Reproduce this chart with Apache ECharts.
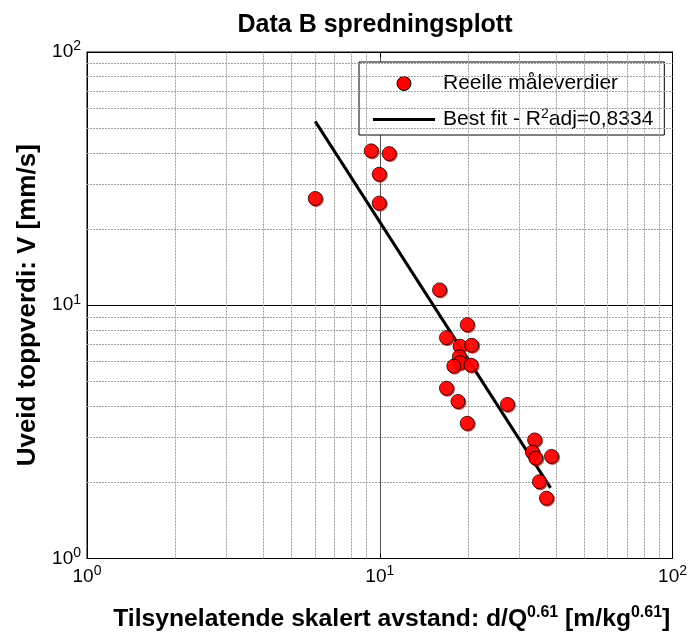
<!DOCTYPE html>
<html>
<head>
<meta charset="utf-8">
<script src="https://cdn.jsdelivr.net/npm/echarts@6/dist/echarts.min.js"></script>
<style>html,body{margin:0;padding:0;background:#fff}#c{width:690px;height:637px}</style>
</head>
<body>
<div id="c"></div>
<script>
// Measured points (scaled distance vs peak velocity)
const xVals = [6.02, 9.35, 10.77, 9.96, 9.96, 16.0, 19.9, 16.9, 18.8, 20.6, 18.7, 18.8, 17.9, 20.5, 16.9, 18.5, 27.3, 19.9, 33.8, 33.2, 34.1, 38.6, 35.1, 37.1];
const yVals = [26.4, 40.7, 39.7, 32.9, 25.3, 11.5, 8.38, 7.45, 6.89, 6.95, 6.26, 5.93, 5.75, 5.80, 4.70, 4.17, 4.06, 3.42, 2.94, 2.63, 2.49, 2.53, 2.01, 1.73];
// Best fit line endpoints
const fitX = [6.02, 38.3];
const fitY = [53.2, 1.90];
// Minor grid values (log decades 1..100)
const minorGrid = [2, 3, 4, 5, 6, 7, 8, 9, 20, 30, 40, 50, 60, 70, 80, 90];

const FONT = '"Liberation Sans", Arial, sans-serif';
const chart = echarts.init(document.getElementById('c'), null, {renderer: 'canvas'});

const tickRich = {
  b: {fontSize: 19, fontFamily: FONT, color: '#000'},
  s: {fontSize: 14, fontFamily: FONT, color: '#000', padding: [0, 0, 11, 0]}
};
const xNameRich = {
  b: {fontSize: 24.7, fontWeight: 'bold', fontFamily: FONT, color: '#000'},
  s: {fontSize: 16, fontWeight: 'bold', fontFamily: FONT, color: '#000', padding: [0, 0, 14, 0]}
};
const yNameRich = {
  b: {fontSize: 26, fontWeight: 'bold', fontFamily: FONT, color: '#000'}
};
const tickFmt = v => '{b|10}{s|' + Math.round(Math.log10(v)) + '}';

const scatterData = xVals.map((x, i) => [x, yVals[i]]);
const fitData = fitX.map((x, i) => [x, fitY[i]]);

const gridLineStyle = {color: '#a0a0a0', width: 1, type: [2, 1]};

chart.setOption({
  animation: false,
  backgroundColor: '#fff',
  title: {
    text: 'Data B spredningsplott',
    left: 370, top: 8, textAlign: 'center',
    textStyle: {fontSize: 25, fontWeight: 'bold', fontFamily: FONT, color: '#000'}
  },
  grid: {left: 87, right: 16, top: 52, bottom: 76, show: true, borderColor: '#000', borderWidth: 1, backgroundColor: '#fff'},
  legend: {
    orient: 'vertical',
    left: 359, top: 62,
    backgroundColor: '#fff',
    borderColor: '#000', borderWidth: 1, borderRadius: 0,
    padding: [11, 11, 5, 14],
    itemWidth: 62, itemHeight: 14, itemGap: 13,
    data: [
      {name: 'Reelle måleverdier', icon: 'circle',
       itemStyle: {color: '#ff0000', borderColor: '#000', borderWidth: 1, shadowBlur: 0, shadowOffsetX: 0, shadowOffsetY: 0, shadowColor: 'transparent', opacity: 1}},
      {name: 'Best fit', icon: 'path://M0,0 L62,0 L62,3 L0,3 Z',
       itemStyle: {color: '#000', borderWidth: 0, shadowColor: 'transparent'}}
    ],
    formatter: n => n === 'Best fit' ? 'Best fit - R{sup|2}adj=0,8334' : n,
    textStyle: {
      fontSize: 21, fontFamily: FONT, color: '#000', padding: [0, 0, 0, 3],
      rich: {sup: {fontSize: 14, fontFamily: FONT, color: '#000', padding: [0, 0, 11, 0]}}
    }
  },
  xAxis: [{
    type: 'log', logBase: 10, min: 1, max: 100,
    position: 'bottom',
    name: '{b|Tilsynelatende skalert avstand: d/Q}{s|0.61}{b| [m/kg}{s|0.61}{b|]}',
    nameLocation: 'middle', nameGap: 46,
    nameTextStyle: {rich: xNameRich, padding: [0, 0, 0, 24]},
    axisLine: {show: true, lineStyle: {color: '#000', width: 1}},
    axisTick: {show: true, inside: true, length: 5, lineStyle: {color: '#000'}},
    axisLabel: {formatter: tickFmt, rich: tickRich, margin: 6},
    splitLine: {show: true, lineStyle: {color: '#555', width: 1}}
  }, {
    type: 'log', logBase: 10, min: 1, max: 100,
    position: 'top',
    axisLine: {show: true, lineStyle: {color: '#000'}},
    axisTick: {show: true, inside: true, length: 5, lineStyle: {color: '#000'}},
    axisLabel: {show: false},
    splitLine: {show: false}
  }],
  yAxis: [{
    type: 'log', logBase: 10, min: 1, max: 100,
    position: 'left',
    name: '{b|Uveid toppverdi: V [mm/s]}',
    nameLocation: 'middle', nameGap: 46,
    nameTextStyle: {rich: yNameRich},
    axisLine: {show: true, lineStyle: {color: '#000', width: 1}},
    axisTick: {show: true, inside: true, length: 5, lineStyle: {color: '#000'}},
    axisLabel: {formatter: tickFmt, rich: tickRich, margin: 6},
    splitLine: {show: true, lineStyle: {color: '#000', width: 1}}
  }, {
    type: 'log', logBase: 10, min: 1, max: 100,
    position: 'right',
    axisLine: {show: true, lineStyle: {color: '#000'}},
    axisTick: {show: true, inside: true, length: 5, lineStyle: {color: '#000'}},
    axisLabel: {show: false},
    splitLine: {show: false}
  }],
  series: [
    {
      name: 'gridlines', type: 'line', data: [], silent: true,
      xAxisIndex: 0, yAxisIndex: 0, z: 1,
      markLine: {
        silent: true, symbol: ['none', 'none'], label: {show: false},
        lineStyle: gridLineStyle, animation: false,
        data: minorGrid.map(v => ({xAxis: v})).concat(minorGrid.map(v => ({yAxis: v})))
      }
    },
    {
      name: 'Best fit', type: 'line', data: fitData, symbol: 'none', z: 5,
      lineStyle: {color: '#000', width: 3}, itemStyle: {color: '#000'}
    },
    {
      name: 'Reelle måleverdier', type: 'scatter', data: scatterData, z: 6,
      symbol: 'circle', symbolSize: 14,
      itemStyle: {color: '#ff0000', borderColor: '#000', borderWidth: 1,
        shadowColor: 'rgba(255,0,0,0.9)', shadowOffsetX: 1, shadowOffsetY: 1, shadowBlur: 0}
    }
  ]
});
</script>
</body>
</html>
